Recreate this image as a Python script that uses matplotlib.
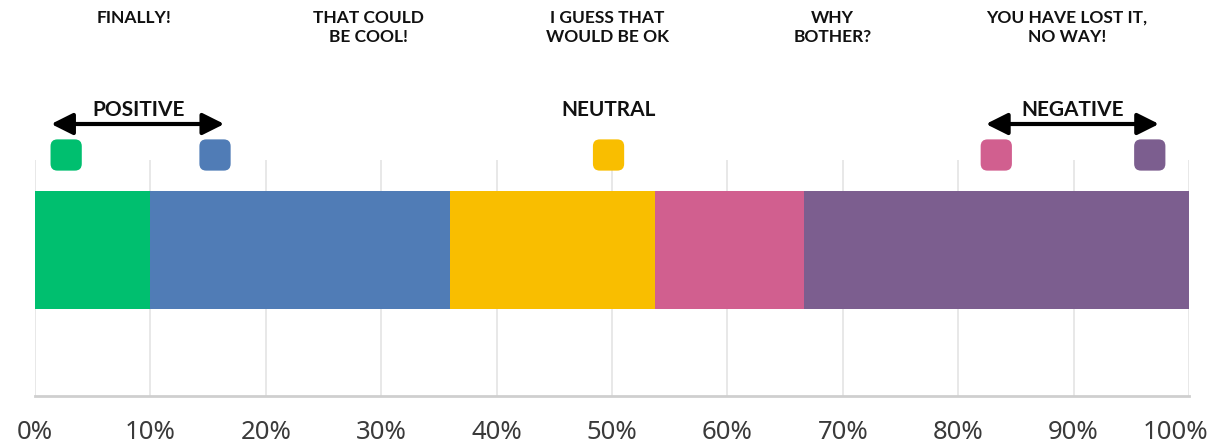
import matplotlib.pyplot as plt
import matplotlib.transforms as mtransforms
from matplotlib.patches import BoxStyle, FancyArrowPatch

# response shares (percent of respondents), left to right
answers = ["FINALLY!", "THAT COULD\nBE COOL!", "I GUESS THAT\nWOULD BE OK",
           "WHY\nBOTHER?", "YOU HAVE LOST IT,\nNO WAY!"]
shares = [10.0, 26.0, 17.7, 12.9, 33.4]
colors = ["#00bf6f", "#507cb6", "#f9be00", "#d15f8f", "#7c5e8f"]

# where each answer sits on the sentiment scale (percent)
answer_x = [8.6, 28.9, 49.6, 69.1, 89.4]
swatch_x = [2.7, 15.6, 49.7, 83.3, 96.6]
groups = ["POSITIVE", "NEUTRAL", "NEGATIVE"]
group_x = [9.0, 49.7, 89.9]
group_spans = [(1.4, 16.4), None, (82.4, 97.4)]

ticks = list(range(0, 101, 10))
tick_labels = [f"{t}%" for t in ticks]

W, H = 1212, 445
fig = plt.figure(figsize=(W / 100, H / 100), dpi=100)
ax = fig.add_axes([35 / W, (H - 396) / H, (1189 - 35) / W, (396 - 160) / H])

left = 0.0
for share, color in zip(shares, colors):
    ax.barh(0, share, left=left, height=1.0, color=color, linewidth=0)
    left += share

ax.set_xlim(0, 100)
ax.set_ylim(-0.5 - 87 / 118, 0.5 + 31 / 118)
ax.set_yticks([])
ax.set_xticks(ticks, tick_labels)
ax.tick_params(axis="x", length=0, pad=17, labelsize=18.5, labelcolor="#3a3a3a")
for label in ax.get_xticklabels():
    label.set_fontfamily("Noto Sans")
ax.grid(axis="x", color="#e4e4e4", linewidth=1.2)
ax.set_axisbelow(True)
for side in ("top", "right", "left"):
    ax.spines[side].set_visible(False)
ax.spines["bottom"].set_color("#cfcfcf")
ax.spines["bottom"].set_linewidth(2)

# x in data units, y in figure fraction
above = mtransforms.blended_transform_factory(ax.transData, fig.transFigure)

# rounded square swatches above the bar
rounded = BoxStyle.Round(pad=0, rounding_size=0.22)(-0.5, -0.5, 1.0, 1.0, 1.0)
ax.scatter(swatch_x, [(H - 155) / H] * len(swatch_x), marker=rounded,
           s=22.5 ** 2, c=colors, linewidths=0, transform=above, clip_on=False)

for text, x in zip(answers, answer_x):
    ax.text(x, (H - 10) / H, text, transform=above, ha="center", va="top",
            fontsize=12.5, fontweight="bold", family="Lato", linespacing=1.2,
            color="#111111")

for name, x, span in zip(groups, group_x, group_spans):
    ax.text(x, (H - 110) / H, name, transform=above, ha="center", va="center",
            fontsize=15, fontweight="bold", family="Lato", color="#111111")
    if span is None:
        continue
    arrow = FancyArrowPatch((span[0], (H - 124) / H), (span[1], (H - 124) / H),
                            transform=above, arrowstyle="<|-|>,head_length=1.0,head_width=0.5",
                            mutation_scale=13, linewidth=3, color="black",
                            shrinkA=0, shrinkB=0, clip_on=False)
    fig.add_artist(arrow)

# pull the last tick label inside the canvas
last = ax.get_xticklabels()[-1]
last.set_transform(last.get_transform()
                   + mtransforms.ScaledTranslation(-14 / 100, 0, fig.dpi_scale_trans))

fig.savefig("out.png", dpi=100)
